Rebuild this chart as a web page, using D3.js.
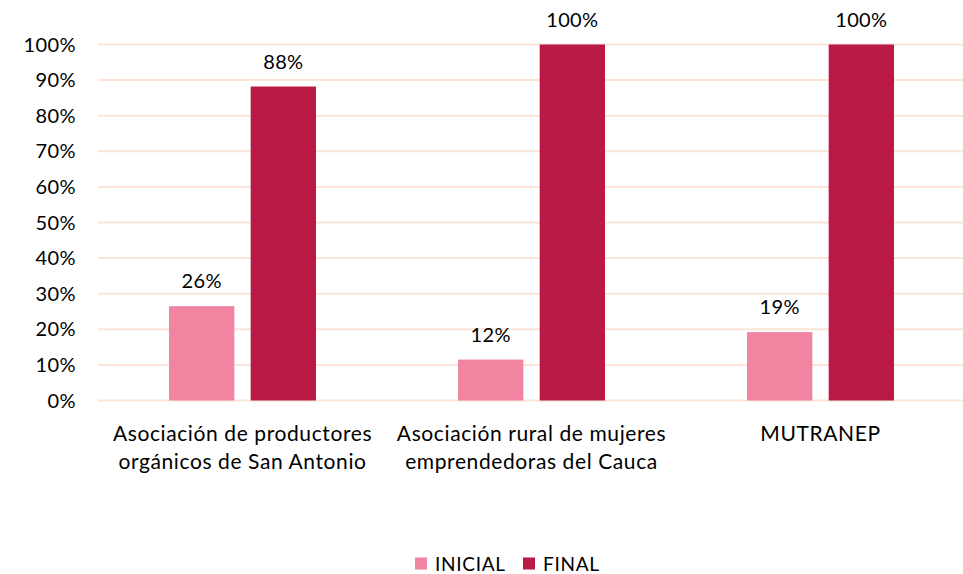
<!DOCTYPE html>
<html>
<head>
<meta charset="utf-8">
<script src="https://cdn.jsdelivr.net/npm/d3@7/dist/d3.min.js"></script>
<style>
  body { margin: 0; background: #fff; }
  text { font-family: Lato, "Open Sans", sans-serif; fill: #000; }
</style>
</head>
<body>
<div id="chart"></div>
<script>
// chart data
var categories = [
  ["Asociación de productores", "orgánicos de San Antonio"],
  ["Asociación rural de mujeres", "emprendedoras del Cauca"],
  ["MUTRANEP"]
];
var seriesNames = ["INICIAL", "FINAL"];
var inicial = [26.5, 11.5, 19.2];
var final = [88.2, 100, 100];
var inicialLabels = ["26%", "12%", "19%"];
var finalLabels = ["88%", "100%", "100%"];
var yTicks = [0, 10, 20, 30, 40, 50, 60, 70, 80, 90, 100];

var colors = ["#F084A1", "#BA1845"];

var width = 963, height = 574;
var margin = {top: 44.5, left: 98, bottom: 173.5};
var plotW = 867; // runs past the right edge, like the original

var svg = d3.select("#chart").append("svg")
  .attr("width", width)
  .attr("height", height);

var x = d3.scaleBand()
  .domain(d3.range(categories.length))
  .range([margin.left, margin.left + plotW]);

var x1 = d3.scaleBand()
  .domain(seriesNames)
  .range([0, x.bandwidth()])
  .paddingInner(0.2)
  .paddingOuter(0.87);

var y = d3.scaleLinear()
  .domain([0, 100])
  .range([height - margin.bottom, margin.top]);

// grid
svg.append("g")
  .selectAll("line")
  .data(yTicks)
  .enter()
  .append("line")
  .attr("x1", margin.left)
  .attr("x2", margin.left + plotW)
  .attr("y1", function (d) { return y(d); })
  .attr("y2", function (d) { return y(d); })
  .attr("stroke", "#FCE4D8")
  .attr("stroke-width", 2);

// y labels
svg.append("g")
  .selectAll("text")
  .data(yTicks)
  .enter()
  .append("text")
  .attr("x", 76)
  .attr("y", function (d) { return y(d); })
  .attr("dy", "0.35em")
  .attr("text-anchor", "end")
  .style("font-size", "20px")
  .style("letter-spacing", "0.4px")
  .text(function (d) { return d + "%"; });

// bars
var series = [
  {name: seriesNames[0], values: inicial, labels: inicialLabels},
  {name: seriesNames[1], values: final, labels: finalLabels}
];

series.forEach(function (s, si) {
  var g = svg.append("g");
  g.selectAll("rect")
    .data(s.values)
    .enter()
    .append("rect")
    .attr("x", function (d, i) { return x(i) + x1(s.name); })
    .attr("width", x1.bandwidth())
    .attr("y", function (d) { return y(d); })
    .attr("height", function (d) { return y(0) - y(d); })
    .attr("fill", colors[si]);

  g.selectAll("text")
    .data(s.values)
    .enter()
    .append("text")
    .attr("x", function (d, i) { return x(i) + x1(s.name) + x1.bandwidth() / 2; })
    .attr("y", function (d) { return y(d) - 18; })
    .attr("text-anchor", "middle")
    .style("font-size", "20px")
    .style("letter-spacing", "0.3px")
    .text(function (d, i) { return s.labels[i]; });
});

// category labels
var cat = svg.append("g")
  .selectAll("text")
  .data(categories)
  .enter()
  .append("text")
  .attr("text-anchor", "middle")
  .style("font-size", "21px")
  .style("letter-spacing", "0.6px")
  .attr("transform", function (d, i) {
    return "translate(" + (x(i) + x.bandwidth() / 2) + ",441)";
  });

cat.selectAll("tspan")
  .data(function (d) { return d; })
  .enter()
  .append("tspan")
  .attr("x", 0)
  .attr("dy", function (d, i) { return i === 0 ? 0 : 28; })
  .text(function (d) { return d; });

// legend
var legend = svg.append("g").attr("transform", "translate(415,564)");
var lx = [0, 108];
seriesNames.forEach(function (n, i) {
  legend.append("rect")
    .attr("x", lx[i])
    .attr("y", -6.5)
    .attr("width", 12)
    .attr("height", 12)
    .attr("fill", colors[i]);
  legend.append("text")
    .attr("x", lx[i] + 20)
    .attr("y", 0)
    .attr("dy", "0.35em")
    .style("font-size", "19px")
    .style("letter-spacing", "0.7px")
    .text(n);
});
</script>
</body>
</html>
